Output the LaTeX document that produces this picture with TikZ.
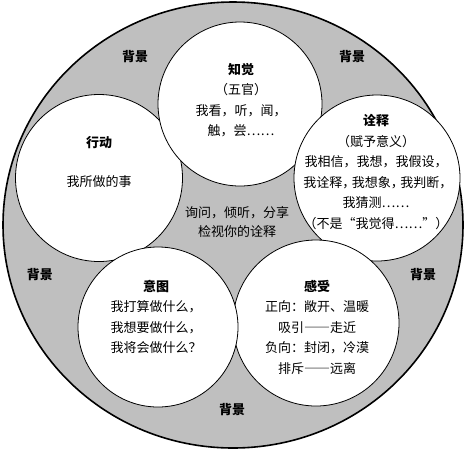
\documentclass[tikz,border=0pt]{standalone}
\usepackage{fontspec}
\setmainfont{Noto Sans CJK SC}
\definecolor{ringgray}{gray}{0.75}
\newcommand{\fullw}[1]{{\addfontfeatures{CharacterWidth=Full}#1}}
\newcommand{\tightcomma}{\makebox[9.5pt][l]{，}}
\tikzset{
  bubble/.style={circle, draw=black, fill=white, line width=0.8pt, inner sep=0pt},
  bglabel/.style={font=\bfseries\fontsize{13}{15}\selectfont},
  words/.style={align=center, inner sep=0pt, font=\fontsize{13}{20.5}\selectfont}
}

\begin{document}
\begin{tikzpicture}[x=1pt,y=-1pt]
	\useasboundingbox (0,0) rectangle (474,451);
	% Draw background ring
	\draw[fill=ringgray, line width=1.6pt] (233,225) ellipse [x radius=230, y radius=223];

	% Draw the five circles
	\node[bubble, minimum size=167pt] (xingdong) at (99,178) {};
	\node[bubble, minimum size=164pt] (zhijue) at (240,104) {};
	\node[bubble, minimum size=166pt] (quanshi) at (377,178) {};
	\node[bubble, minimum size=166pt] (ganshou) at (316,323) {};
	\node[bubble, minimum size=160pt] (yitu) at (158,327) {};

	% Texts in the circles
	\node[words] (zhijuetext) at (241,100) {{\bfseries 知觉}\\（五官）\\我看，听，闻，\\触，尝……};
	\node[words] (xingdongtext) at (99,162) {{\bfseries 行动}\\[19pt]我所做的事};
	\node[words] (quanshitext) at (376,172) {{\bfseries 诠释}\\（赋予意义）\\我相信，我想，我假设，\\我诠释\tightcomma 我想象\tightcomma 我判断\tightcomma\\我猜测……\\（不是“我觉得……”）};
	\node[words] (yitutext) at (156,317) {{\bfseries 意图}\\我打算做什么，\\我想要做什么，\\我将会做什么？};
	\node[words] (ganshoutext) at (317,327) {{\bfseries 感受}\\正向：敞开、温暖\\吸引\fullw{——}走近\\负向：封闭，冷漠\\排斥\fullw{——}远离};

	% Centre text
	\node[words, font=\fontsize{13}{19}\selectfont] (centre) at (237,222) {询问，倾听，分享\\检视你的诠释};

	% Background labels
	\node[bglabel] (bg1) at (135,57) {背景};
	\node[bglabel] (bg2) at (352,57) {背景};
	\node[bglabel] (bg3) at (40,275) {背景};
	\node[bglabel] (bg4) at (423,275) {背景};
	\node[bglabel] (bg5) at (232,410) {背景};
\end{tikzpicture}
\end{document}
